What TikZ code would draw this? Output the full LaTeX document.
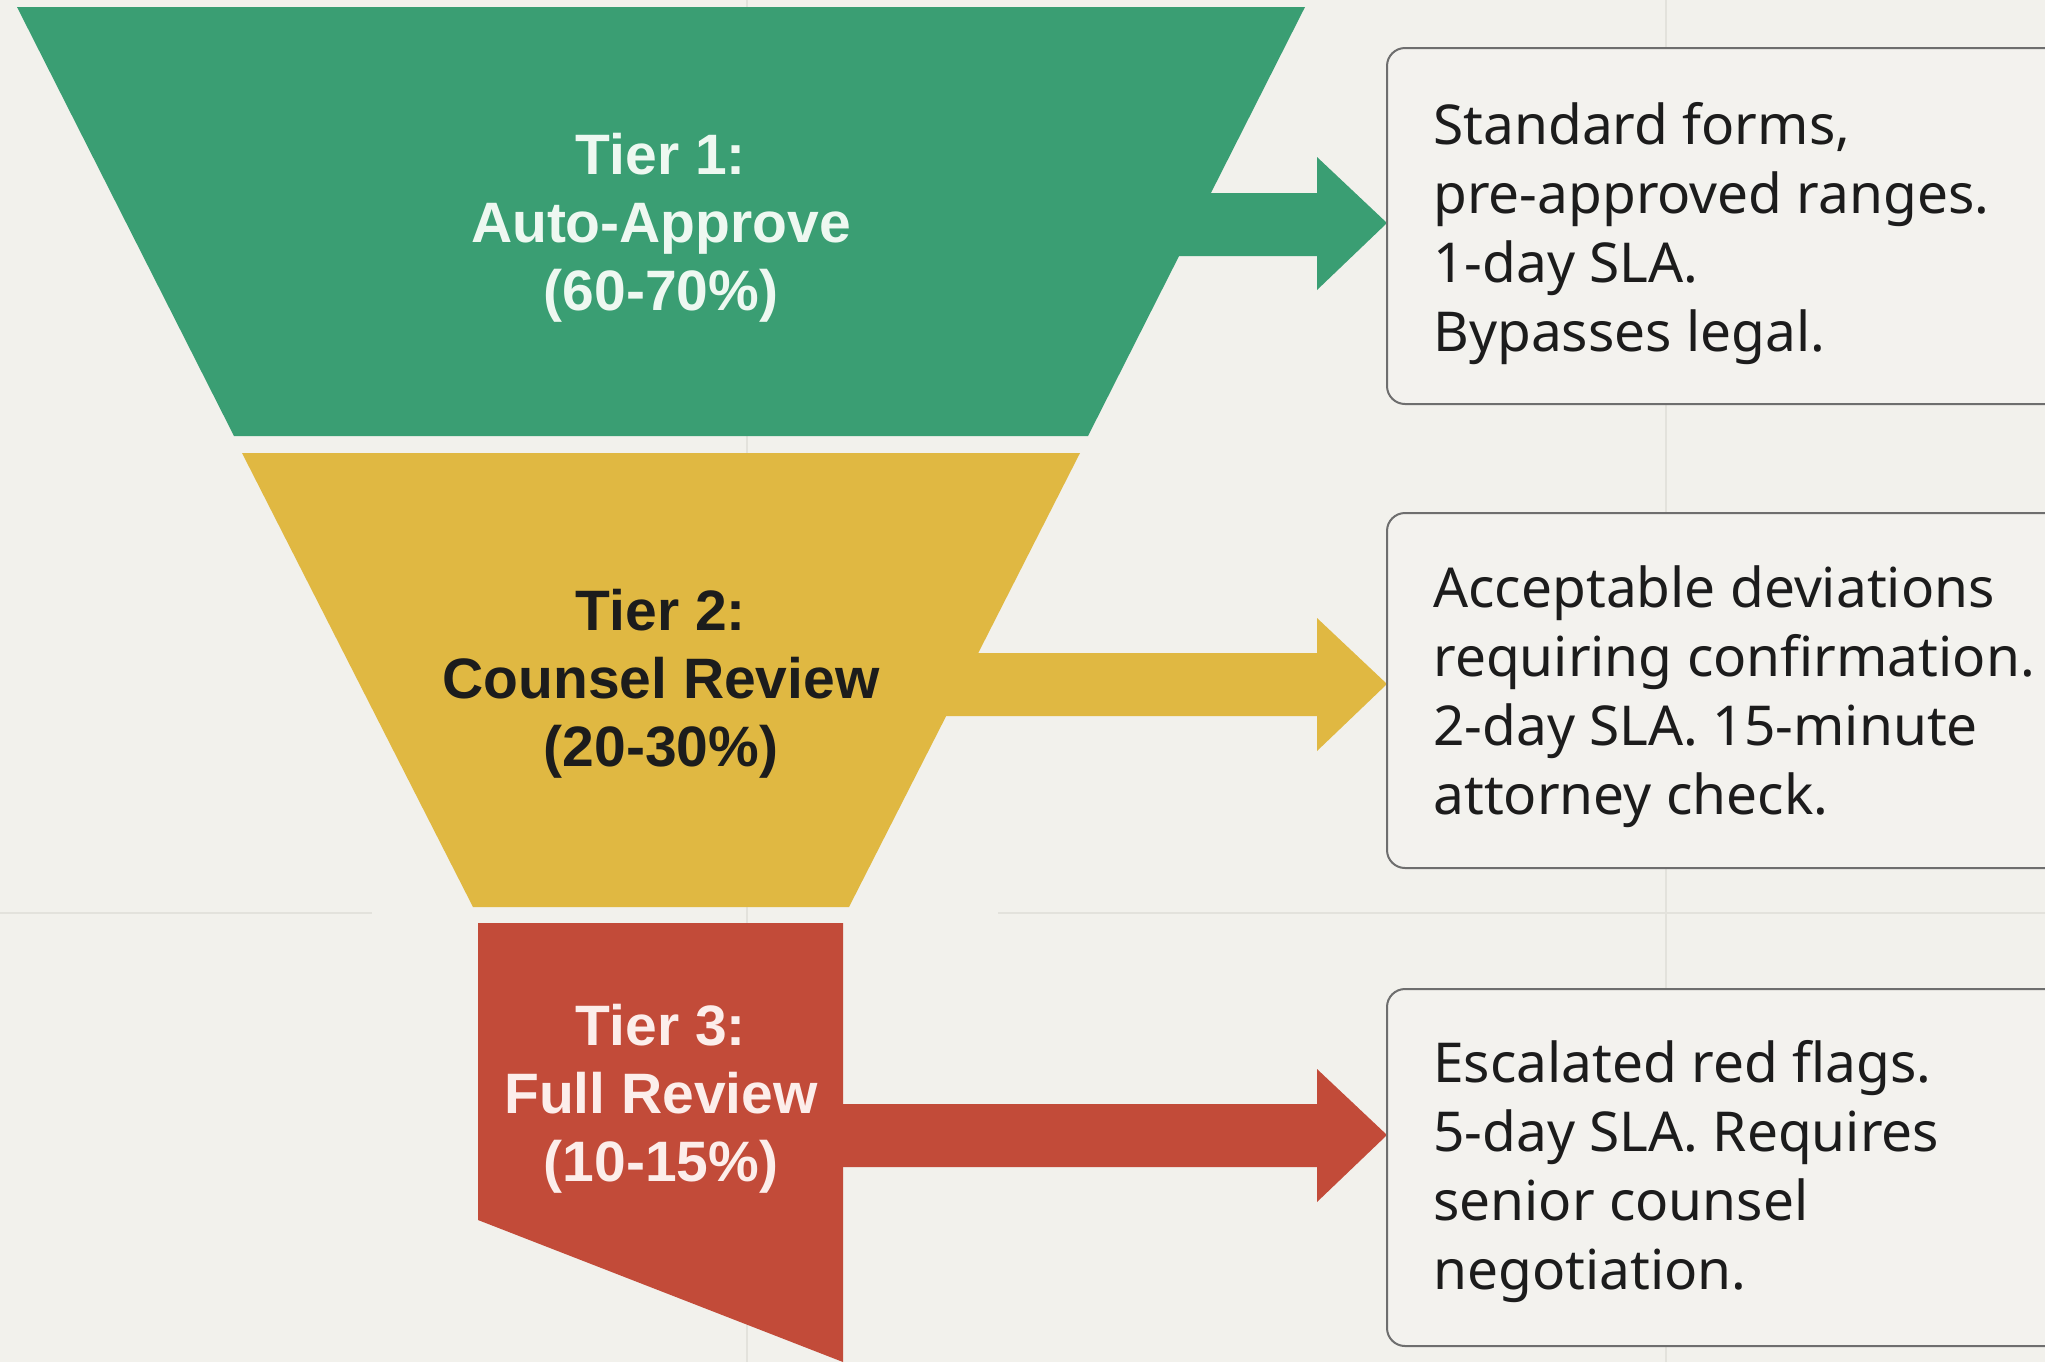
\documentclass[tikz,border=0pt]{standalone}
\usepackage{fontspec}
\setmainfont{Liberation Sans}
\newfontfamily\bodyfont{Noto Sans}
\definecolor{bgc}{HTML}{F2F1EC}
\definecolor{gridc}{HTML}{E3E2DC}
\definecolor{tgreen}{HTML}{3A9E73}
\definecolor{tyellow}{HTML}{E0B842}
\definecolor{tred}{HTML}{C24B39}
\definecolor{boxgray}{HTML}{6E6E6E}
\definecolor{boxfill}{HTML}{F3F2EE}
\definecolor{txtdark}{HTML}{1C1C1C}
\definecolor{wgreen}{HTML}{EEF8F1}
\definecolor{wred}{HTML}{FCEEEB}
\begin{document}
\begin{tikzpicture}[x=0.5pt,y=-0.5pt,
  gridline/.style={draw=gridc,line width=1pt},
  tiershape/.style={line width=0pt},
  title/.style={font=\fontsize{28.5}{34}\selectfont\bfseries,align=center,inner sep=0pt,anchor=north},
  desc/.style={font=\bodyfont\fontsize{27.5}{34.5}\selectfont,align=left,inner sep=0pt,anchor=north west,text=txtdark},
  descbox/.style={draw=boxgray,line width=1pt,fill=boxfill,rounded corners=9pt}]
\useasboundingbox (0,0) rectangle (2045,1362);
\clip (0,0) rectangle (2045,1362);
\fill[bgc] (0,0) rectangle (2045,1362);
% faint background grid
\draw[gridline] (747,0) -- (747,1362);
\draw[gridline] (1666,0) -- (1666,1362);
\draw[gridline] (0,913) -- (372,913);
\draw[gridline] (998,913) -- (2045,913);
% tier shapes
\fill[tgreen] (17,7) -- (1305,7) -- (1088,436) -- (234,436) -- cycle;
\fill[tyellow] (242,453) -- (1080,453) -- (849,907) -- (473,907) -- cycle;
\fill[tred] (478,923) -- (843,923) -- (843,1362) -- (478,1220) -- cycle;
% block arrows
\fill[tgreen] (900,193) -- (1317,193) -- (1317,157) -- (1387,223) -- (1317,290) -- (1317,256) -- (900,256) -- cycle;
\fill[tyellow] (800,653) -- (1317,653) -- (1317,618) -- (1387,684) -- (1317,751) -- (1317,716) -- (800,716) -- cycle;
\fill[tred] (830,1104) -- (1317,1104) -- (1317,1069) -- (1387,1135) -- (1317,1202) -- (1317,1167) -- (830,1167) -- cycle;
% description boxes
\draw[descbox] (1387,48) rectangle (2100,404);
\draw[descbox] (1387,513) rectangle (2100,868);
\draw[descbox] (1387,989) rectangle (2100,1346);
% tier titles
\node[title,text=wgreen] (t1) at (661,133) {Tier 1:\\Auto-Approve\\(60-70\%)};
\node[title,text=txtdark] (t2) at (661,589) {Tier 2:\\Counsel Review\\(20-30\%)};
\node[title,text=wred] (t3) at (661,1004) {Tier 3:\\Full Review\\(10-15\%)};
% descriptions
\node[desc] (d1) at (1433,102) {Standard forms,\\pre-approved ranges.\\1-day SLA.\\Bypasses legal.};
\node[desc] (d2) at (1433,565) {Acceptable deviations\\requiring confirmation.\\2-day SLA. 15-minute\\attorney check.};
\node[desc] (d3) at (1433,1040) {Escalated red flags.\\5-day SLA. Requires\\senior counsel\\negotiation.};
\end{tikzpicture}
\end{document}
